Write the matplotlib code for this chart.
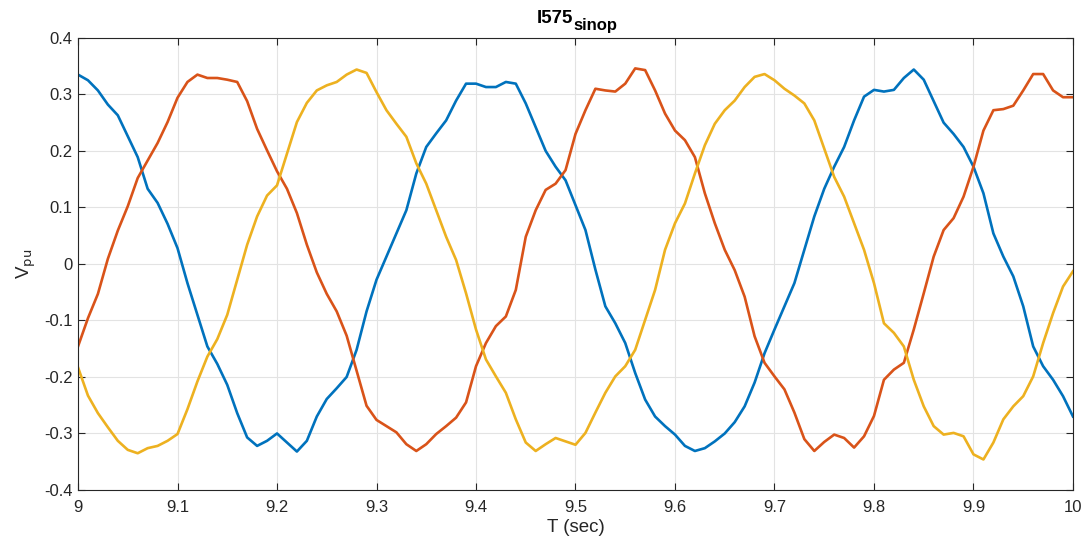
import numpy as np
import matplotlib
matplotlib.use("Agg")
import matplotlib.pyplot as plt

# Time axis (sec), one reading every 10 ms
t = np.round(np.arange(9.0, 10.0001, 0.01), 2)

# Values (per-unit)
phase_a = [0.335, 0.325, 0.307, 0.282, 0.263, 0.226, 0.189, 0.133, 0.108, 0.071,
           0.028, -0.034, -0.090, -0.146, -0.177, -0.214, -0.264, -0.307, -0.322, -0.313,
           -0.300, -0.316, -0.332, -0.313, -0.270, -0.239, -0.220, -0.200, -0.152, -0.084,
           -0.028, 0.013, 0.054, 0.095, 0.160, 0.207, 0.231, 0.254, 0.289, 0.319,
           0.319, 0.313, 0.313, 0.322, 0.319, 0.284, 0.242, 0.200, 0.172, 0.148,
           0.104, 0.060, -0.010, -0.075, -0.105, -0.140, -0.193, -0.240, -0.270, -0.287,
           -0.302, -0.322, -0.331, -0.326, -0.314, -0.300, -0.280, -0.252, -0.210, -0.158,
           -0.116, -0.075, -0.034, 0.025, 0.084, 0.133, 0.172, 0.207, 0.254, 0.296,
           0.308, 0.305, 0.308, 0.329, 0.344, 0.326, 0.288, 0.250, 0.230, 0.207,
           0.172, 0.125, 0.054, 0.013, -0.022, -0.075, -0.146, -0.181, -0.205, -0.234,
           -0.270]

phase_b = [-0.146, -0.096, -0.053, 0.009, 0.059, 0.102, 0.152, 0.183, 0.214, 0.251,
           0.294, 0.322, 0.335, 0.329, 0.329, 0.326, 0.322, 0.288, 0.239, 0.201,
           0.164, 0.133, 0.090, 0.034, -0.015, -0.053, -0.084, -0.127, -0.189, -0.251,
           -0.276, -0.287, -0.298, -0.319, -0.331, -0.319, -0.301, -0.287, -0.272, -0.245,
           -0.181, -0.140, -0.110, -0.093, -0.046, 0.048, 0.095, 0.131, 0.142, 0.166,
           0.230, 0.272, 0.310, 0.307, 0.305, 0.319, 0.346, 0.343, 0.307, 0.266,
           0.236, 0.219, 0.189, 0.125, 0.072, 0.025, -0.011, -0.058, -0.128, -0.175,
           -0.199, -0.222, -0.263, -0.310, -0.331, -0.315, -0.302, -0.308, -0.325, -0.305,
           -0.269, -0.205, -0.187, -0.175, -0.116, -0.052, 0.013, 0.060, 0.081, 0.119,
           0.172, 0.236, 0.272, 0.274, 0.280, 0.307, 0.336, 0.336, 0.307, 0.295,
           0.295]

phase_c = [-0.183, -0.233, -0.264, -0.289, -0.313, -0.329, -0.335, -0.326, -0.322, -0.313,
           -0.301, -0.257, -0.208, -0.164, -0.133, -0.090, -0.028, 0.034, 0.084, 0.121,
           0.139, 0.195, 0.251, 0.285, 0.307, 0.316, 0.322, 0.335, 0.344, 0.338,
           0.304, 0.272, 0.248, 0.225, 0.178, 0.142, 0.095, 0.048, 0.007, -0.052,
           -0.116, -0.169, -0.199, -0.228, -0.275, -0.316, -0.331, -0.319, -0.308, -0.314,
           -0.320, -0.299, -0.263, -0.228, -0.199, -0.181, -0.152, -0.099, -0.046, 0.025,
           0.072, 0.107, 0.160, 0.210, 0.248, 0.272, 0.289, 0.313, 0.331, 0.336,
           0.325, 0.310, 0.298, 0.284, 0.254, 0.204, 0.154, 0.119, 0.072, 0.025,
           -0.034, -0.105, -0.122, -0.146, -0.205, -0.252, -0.287, -0.302, -0.299, -0.305,
           -0.337, -0.346, -0.316, -0.275, -0.252, -0.234, -0.199, -0.140, -0.087, -0.040,
           -0.013]

colors = ["#0072BD", "#D95319", "#EDB120"]
axis_gray = "#262626"

plt.rcParams["font.family"] = ["Liberation Sans", "DejaVu Sans"]

fig = plt.figure(figsize=(10.88, 5.49), dpi=100)
ax = fig.add_axes([0.0717, 0.1075, 0.9145, 0.8235])

for series, c in zip([phase_a, phase_b, phase_c], colors):
    ax.plot(t, series, color=c, linewidth=1.9)

ax.set_xlim(9, 10)
ax.set_ylim(-0.4, 0.4)
ax.set_xticks(np.round(np.arange(9, 10.01, 0.1), 1))
ax.set_xticklabels(["9", "9.1", "9.2", "9.3", "9.4", "9.5", "9.6", "9.7", "9.8", "9.9", "10"])
ax.set_yticks(np.round(np.arange(-0.4, 0.41, 0.1), 1))
ax.set_yticklabels(["-0.4", "-0.3", "-0.2", "-0.1", "0", "0.1", "0.2", "0.3", "0.4"])

ax.grid(True, color="#E3E3E3", linewidth=0.8)
ax.set_axisbelow(True)
ax.tick_params(direction="in", top=True, right=True, length=5, width=0.8,
               colors=axis_gray, labelsize=12)
ax.tick_params(axis="x", pad=7)
ax.tick_params(axis="y", pad=4)
for s in ax.spines.values():
    s.set_color(axis_gray)
    s.set_linewidth(0.8)

# Title: bold main part with a bold subscript, as in the reference
fig.text(573 / 1088, 1 - 23 / 549, "I575", fontsize=13.5, fontweight="bold",
         ha="right", va="baseline")
fig.text(573 / 1088, 1 - 30 / 549, "sinop", fontsize=12, fontweight="bold",
         ha="left", va="baseline")

ax.set_xlabel("T (sec)", fontsize=13.5, color=axis_gray, labelpad=3)
ax.set_ylabel(r"V$_{\mathrm{pu}}$", fontsize=13.5, color=axis_gray, labelpad=4)

fig.savefig("out.png", dpi=100)
